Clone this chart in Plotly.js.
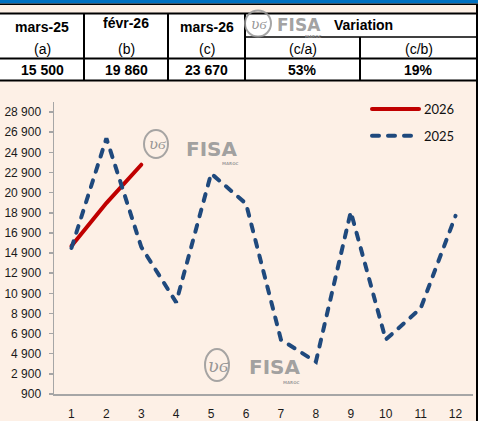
<!DOCTYPE html>
<html>
<head>
<meta charset="utf-8">
<script src="https://cdn.plot.ly/plotly-3.0.1.min.js"></script>
<style>
html,body{margin:0;padding:0;background:#FDF0E6;}
#chart{width:478px;height:421px;}
.scatterlayer .js-line, .legend .js-line{stroke-linecap:round;}
</style>
</head>
<body>
<div id="chart"></div>
<script>
// ---- data ----
const months = [1, 2, 3, 4, 5, 6, 7, 8, 9, 10, 11, 12];
const series2025 = [15400, 26300, 15500, 10000, 22800, 19800, 6300, 4100, 19000, 6300, 9400, 18600];
const series2026 = [15600, 19860, 23670];
const seriesNames = ['2026', '2025'];

const tableHeaders = ['mars-25', 'févr-26', 'mars-26'];
const tableVariationHeader = 'Variation';
const tableSubs = ['(a)', '(b)', '(c)', '(c/a)', '(c/b)'];
const tableValues = ['15 500', '19 860', '23 670', '53%', '19%'];

// ---- geometry helpers (pixel -> paper) ----
const W = 478, H = 421;
const M = {l: 54, r: 5, t: 102, b: 27};
const PW = W - M.l - M.r, PH = H - M.t - M.b;
const px = v => (v - M.l) / PW;
const py = v => (H - M.b - v) / PH;

const shapes = [];
const annotations = [];
const black = '#000000';

function hline(y, x0, x1, w, c) {
  shapes.push({type: 'line', xref: 'paper', yref: 'paper', x0: px(x0), x1: px(x1), y0: py(y), y1: py(y),
    line: {color: c || black, width: w}, layer: 'above'});
}
function vline(x, y0, y1, w, c) {
  shapes.push({type: 'line', xref: 'paper', yref: 'paper', x0: px(x), x1: px(x), y0: py(y0), y1: py(y1),
    line: {color: c || black, width: w}, layer: 'above'});
}
function rect(x0, y0, x1, y1, fill) {
  shapes.push({type: 'rect', xref: 'paper', yref: 'paper', x0: px(x0), x1: px(x1), y0: py(y0), y1: py(y1),
    line: {width: 0}, fillcolor: fill, layer: 'above'});
}
function txt(x, y, t, size, bold, color, family) {
  annotations.push({xref: 'paper', yref: 'paper', x: px(x), y: py(y), text: bold ? '<b>' + t + '</b>' : t,
    showarrow: false, xanchor: 'center', yanchor: 'middle',
    font: {family: family || 'Liberation Sans, Arial, sans-serif', size: size, color: color || black}});
}

// top blue bar
rect(0, 0, W, 3.6, '#0070C0');
hline(4.3, 0, W, 1.5);
// table
const colEdges = [0, 84, 168, 245, 360, 477];
const tTop = 13.5, tMid = 37, tRow = 58.5, tBot = 80.5;
rect(0, tTop, 477, tBot, '#FFFFFF');
hline(tTop, 0, W, 2);
hline(tRow, 0, W, 2);
hline(tBot, 0, W, 2);
hline(tMid, colEdges[3], W, 1.5);
vline(colEdges[1], tTop, tBot, 2);
vline(colEdges[2], tTop, tBot, 2);
vline(colEdges[3], tTop, tBot, 2);
vline(colEdges[4], tMid, tBot, 2);
vline(477, 4, H, 2);

const centers = [];
for (let i = 0; i < 5; i++) centers.push((colEdges[i] + colEdges[i + 1]) / 2);
const headerY = [27, 23, 27];
tableHeaders.forEach((h, i) => txt(centers[i], headerY[i], h, 14, true));
txt((colEdges[3] + colEdges[5]) / 2 + 2, 25.5, tableVariationHeader, 14, true);
tableSubs.forEach((s, i) => txt(centers[i], 48.5, s, 14, false));
tableValues.forEach((v, i) => txt(centers[i], 70, v, 14, true));

// FISA watermark logos
function logo(cx, cy, rx, ry, fx, fy, fsize, mx, my, layer) {
  shapes.push({type: 'circle', xref: 'paper', yref: 'paper', x0: px(cx - rx), x1: px(cx + rx), y0: py(cy + ry), y1: py(cy - ry),
    line: {color: 'rgba(150,150,150,0.85)', width: 2}, fillcolor: 'rgba(0,0,0,0)', layer: layer || 'below'});
  txt(cx + 1, cy, '<i>ʋϭ</i>', Math.round(ry * 1.1), false, 'rgba(140,140,140,0.9)', 'DejaVu Serif, serif');
  txt(fx, fy, 'FISA', fsize, true, 'rgba(150,150,150,0.9)', 'DejaVu Sans, sans-serif');
  txt(mx, my, 'MAROC', 4, true, 'rgba(150,150,150,0.9)', 'DejaVu Sans, sans-serif');
}
logo(258, 23.5, 13, 13, 298.5, 24.5, 17, 313, 36, 'above');
logo(156, 144, 12, 14, 212, 148.5, 20, 230, 163);
logo(217, 365, 12, 16, 275, 366.5, 20, 291, 382);

const traces = [
  {x: months.slice(0, series2026.length), y: series2026, name: seriesNames[0], type: 'scatter', mode: 'lines',
   legendgroup: 'g26', line: {color: '#C00000', width: 4}},
  {x: months, y: series2025, name: seriesNames[1], type: 'scatter', mode: 'lines',
   legendgroup: 'g25', line: {color: '#1F497D', width: 4, dash: '7px,9px'}}
];

const axisGrey = '#A6A6A6';
const layout = {
  width: W, height: H,
  margin: M,
  paper_bgcolor: '#FDF0E6',
  plot_bgcolor: '#FDF0E6',
  separators: ', ',
  showlegend: true,
  legend: {x: px(367), y: py(94), xanchor: 'left', yanchor: 'top', bgcolor: 'rgba(0,0,0,0)',
    font: {family: 'Lato, sans-serif', size: 13, color: '#111111'},
    traceorder: 'grouped', tracegroupgap: 7, itemwidth: 47},
  xaxis: {range: [0.5, 12.5], tickmode: 'array', tickvals: months, showgrid: false, zeroline: false,
    showline: true, linecolor: axisGrey, linewidth: 1.5, ticks: '', ticklabelstandoff: 8,
    tickfont: {family: 'Liberation Sans, Arial, sans-serif', size: 12, color: '#1a1a1a'}, fixedrange: true},
  yaxis: {range: [900, 29900], tick0: 900, dtick: 2000, tickformat: ',d', showgrid: false, zeroline: false,
    showline: true, linecolor: axisGrey, linewidth: 1.5, ticks: 'outside', ticklen: 4, tickcolor: axisGrey, tickwidth: 1.5,
    ticklabelstandoff: 5,
    tickfont: {family: 'Liberation Sans, Arial, sans-serif', size: 12, color: '#1a1a1a'}, fixedrange: true},
  shapes: shapes,
  annotations: annotations
};

Plotly.newPlot('chart', traces, layout, {displayModeBar: false, staticPlot: true});
</script>
</body>
</html>
